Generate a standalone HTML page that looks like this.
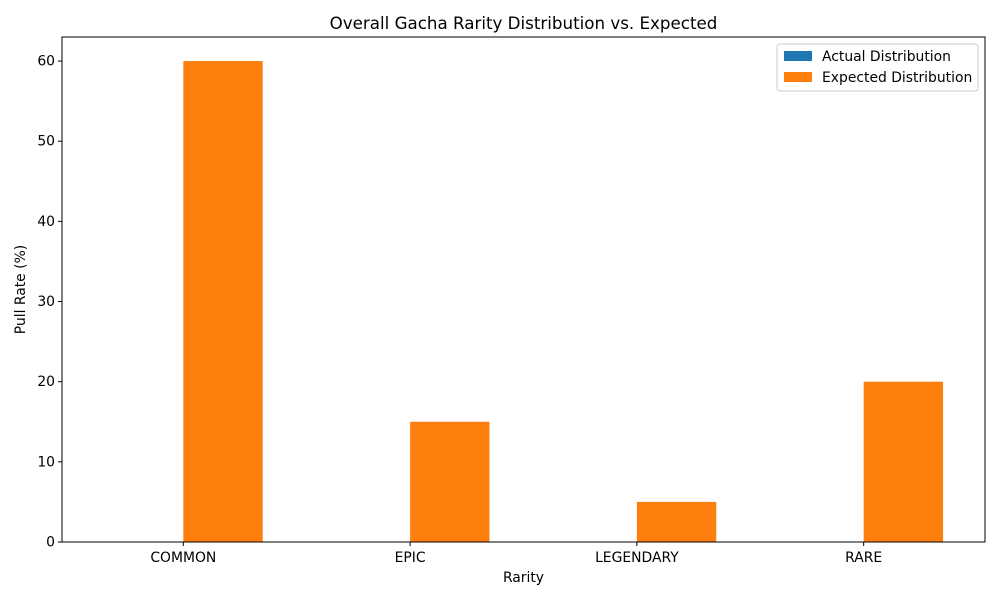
<!DOCTYPE html>
<html><head><meta charset="utf-8"><style>
body{margin:0;background:#fff;font-family:"DejaVu Sans",sans-serif}
</style></head><body>
<svg id="chart" width="1000" height="600" xmlns="http://www.w3.org/2000/svg" font-family="DejaVu Sans, sans-serif">
<rect width="1000" height="600" fill="#fff"/>
<text x="523.5" y="29" text-anchor="middle" font-size="16.7">Overall Gacha Rarity Distribution vs. Expected</text>
<g id="bars"></g>
<rect x="62" y="37" width="923" height="505" fill="none" stroke="#000" stroke-width="1"/>
<g id="yticks"></g><g id="xticks"></g>
<text x="523.5" y="582" text-anchor="middle" font-size="13.9">Rarity</text>
<text transform="translate(25,289.5) rotate(-90)" text-anchor="middle" font-size="13.9">Pull Rate (%)</text>
<g>
<rect x="777" y="44" width="201" height="47" fill="#fff" stroke="#ccc" rx="3"/>
<g><rect x="784" y="51" width="28" height="10" fill="#1f77b4"/><text x="822" y="61" font-size="13.9">Actual Distribution</text></g>
<g><rect x="784" y="72" width="28" height="10" fill="#ff7f0e"/><text x="822" y="82" font-size="13.9">Expected Distribution</text></g>
</g>
</svg>
<script>
const categories=["COMMON","EPIC","LEGENDARY","RARE"];
const actualValues=[0,0,0,0];
const expectedValues=[60,15,5,20];
const yTicks=[0,10,20,30,40,50,60];
const NS="http://www.w3.org/2000/svg";
const L=62,R=985,T=37,B=542,xmin=-0.535,xmax=3.535,ymax=63;
const xs=v=>L+(v-xmin)/(xmax-xmin)*(R-L);
const ys=v=>B-v/ymax*(B-T);
const mk=(t,a,p)=>{const e=document.createElementNS(NS,t);for(const k in a)e.setAttribute(k,a[k]);p.appendChild(e);return e;};
const bars=document.getElementById('bars'),w=0.35;
categories.forEach((c,i)=>{
  const a=mk('rect',{x:xs(i-w),y:ys(actualValues[i]),width:xs(w)-xs(0),height:B-ys(actualValues[i]),fill:'#1f77b4'},bars);
  
  
  const b=mk('rect',{x:xs(i),y:ys(expectedValues[i]),width:xs(w)-xs(0),height:B-ys(expectedValues[i]),fill:'#ff7f0e'},bars);
  
  
});
const yt=document.getElementById('yticks');
yTicks.forEach(v=>{
  const g=mk('g',{},yt);
  
  
  mk('line',{x1:L-4,x2:L,y1:ys(v),y2:ys(v),stroke:'#000'},g);
  const t=mk('text',{x:L-7,y:ys(v)+4.5,'text-anchor':'end','font-size':13.9},g);t.textContent=v;
});
const xt=document.getElementById('xticks');
categories.forEach((c,i)=>{
  const g=mk('g',{},xt);
  
  
  mk('line',{x1:xs(i),x2:xs(i),y1:B,y2:B+4,stroke:'#000'},g);
  const t=mk('text',{x:xs(i),y:B+20,'text-anchor':'middle','font-size':13.9},g);t.textContent=c;
});
</script>
</body></html>
